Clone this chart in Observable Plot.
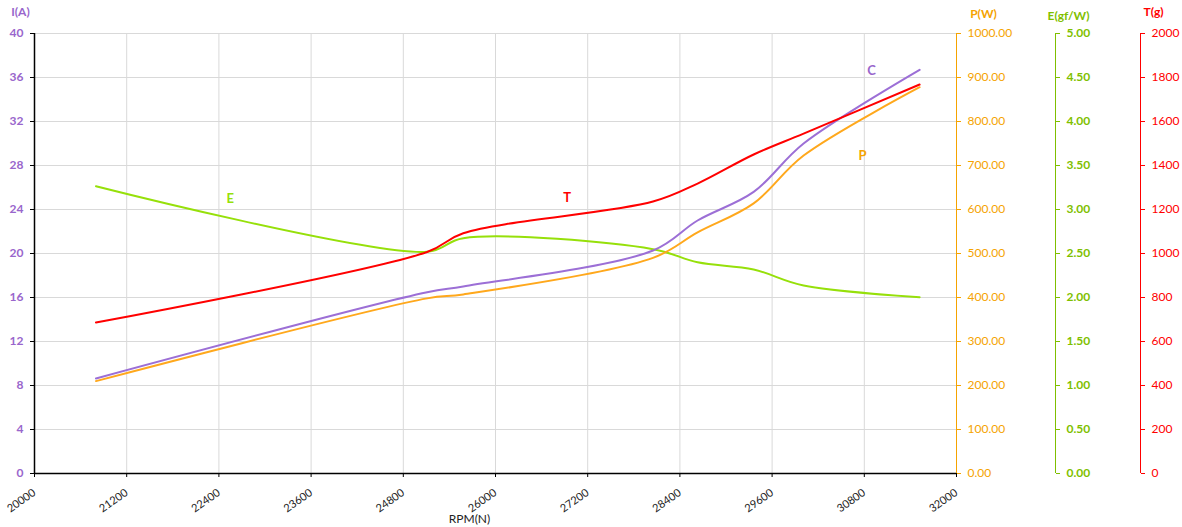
<!DOCTYPE html>
<html><head><meta charset="utf-8">
<script src="https://cdn.jsdelivr.net/npm/d3@7"></script>
<script src="https://cdn.jsdelivr.net/npm/@observablehq/plot@0.6"></script>
<style>
body{margin:0;background:#fff;}
#chart{width:1182px;height:527px;overflow:hidden;}
</style></head><body><div id="chart"></div>
<script>
// ---- data ----
const rpm        = [20800, 25110, 25580, 28050, 28630, 29360, 30010, 31520];
const current    = [8.64, 16.48, 17.0, 20.27, 23.0, 25.6, 30.0, 36.7];        // I(A)
const power      = [210, 398, 407, 490, 548, 614, 722.7, 878];               // P(W)
const thrust     = [686, 1007, 1092, 1236, 1318, 1450, 1545, 1768];          // T(g)
const efficiency = [3.265, 2.52, 2.674, 2.549, 2.40, 2.318, 2.136, 2.004];   // E(gf/W)

const xTicks = [20000, 21200, 22400, 23600, 24800, 26000, 27200, 28400, 29600, 30800, 32000];
const iTicks = [0, 4, 8, 12, 16, 20, 24, 28, 32, 36, 40];
const pTicks = [0, 100, 200, 300, 400, 500, 600, 700, 800, 900, 1000];
const eTicks = [0, 0.5, 1, 1.5, 2, 2.5, 3, 3.5, 4, 4.5, 5];
const tTicks = [0, 200, 400, 600, 800, 1000, 1200, 1400, 1600, 1800, 2000];

const xDomain = [20000, 32000];
const iMax = 40, pMax = 1000, eMax = 5, tMax = 2000;

const seriesLabels = ["E", "T", "C", "P"];
const labelRpm     = [22546, 26934, 30893, 30776];
const labelValue   = [3.125, 1255, 36.6, 722.5];

// ---- styles ----
const COL = {C: "#9c6fd6", P: "#ffa81c", E: "#96e00a", T: "#ff0000"};
const AXCOL = {I: "#9966cc", P: "#f5a300", E: "#7fbf00", T: "#ff0000"};
const LABCOL = {C: "#9966cc", P: "#f5a300", E: "#96e00a", T: "#ff0000"};
const toI = {C: v => v, P: v => v * iMax / pMax, E: v => v * iMax / eMax, T: v => v * iMax / tMax};

const rows = [];
rpm.forEach((r, i) => {
  rows.push({rpm: r, s: "C", v: toI.C(current[i])});
  rows.push({rpm: r, s: "P", v: toI.P(power[i])});
  rows.push({rpm: r, s: "E", v: toI.E(efficiency[i])});
  rows.push({rpm: r, s: "T", v: toI.T(thrust[i])});
});
const order = ["E", "P", "C", "T"];
const labelRows = seriesLabels.map((s, i) => ({s, rpm: labelRpm[i], v: toI[s](labelValue[i])}));

const font = "Lato, 'Open Sans', sans-serif";

const rightAxis = (ticks, max, fmt, color, dx, bold) => [
  Plot.ruleX([xDomain[1]], {y1: 0, y2: iMax, stroke: color, strokeWidth: 1, dx}),
  Plot.axisY(ticks.map(t => t * iMax / max), {
    anchor: "right", tickSize: 4, tickPadding: 7, dx,
    stroke: color, fill: color, fontSize: 12, fontWeight: bold ? "bold" : "normal",
    tickFormat: d => fmt(d * max / iMax), label: null
  })
];

const title = (txt, anchor, dx, dy, fill, bold) =>
  Plot.text([txt], {frameAnchor: anchor, dx, dy, fill, fontWeight: bold ? "bold" : "normal",
    fontSize: 12, textAnchor: "middle", lineAnchor: "middle"});

const chart = Plot.plot({
  width: 1182, height: 527,
  marginLeft: 34, marginRight: 226, marginTop: 33, marginBottom: 54,
  style: {fontFamily: font, background: "#fff", overflow: "visible"},
  x: {domain: xDomain},
  y: {domain: [0, iMax]},
  marks: [
    Plot.gridX(xTicks, {stroke: "#d9d9d9", strokeOpacity: 1}),
    Plot.gridY(iTicks, {stroke: "#d9d9d9", strokeOpacity: 1}),
    Plot.axisX(xTicks, {tickSize: 4, tickRotate: -35, fontSize: 11, stroke: "#000", fill: "#222", label: null, tickPadding: 14, tickFormat: d => String(d)}),
    Plot.axisY(iTicks, {anchor: "left", tickSize: 4, tickPadding: 7, stroke: "#000", fill: AXCOL.I, fontSize: 12, fontWeight: "bold", label: null}),
    ...rightAxis(pTicks, pMax, d => d.toFixed(2), AXCOL.P, 0, false),
    ...rightAxis(eTicks, eMax, d => d.toFixed(2), AXCOL.E, 99, true),
    ...rightAxis(tTicks, tMax, d => d.toFixed(0), AXCOL.T, 184, false),
    Plot.ruleX([xDomain[0]], {y1: 0, y2: iMax, stroke: "#000", strokeWidth: 1.5}),
    Plot.ruleY([0], {stroke: "#000", strokeWidth: 1.5}),
    ...order.map(s => Plot.line(rows.filter(d => d.s === s), {
      x: "rpm", y: "v", stroke: COL[s], strokeWidth: 2, curve: "catmull-rom"
    })),
    Plot.text(labelRows, {x: "rpm", y: "v", text: "s", fill: d => LABCOL[d.s], fontWeight: "bold", fontSize: 13}),
    // axis titles
    title("I(A)", "top-left", -14, -21, AXCOL.I, true),
    title("P(W)", "top-right", 27, -19, AXCOL.P, true),
    title("E(gf/W)", "top-right", 112, -17, AXCOL.E, true),
    title("T(g)", "top-right", 197, -21, AXCOL.T, true),
    title("RPM(N)", "bottom", -26, 46, "#222", false)
  ]
});
document.getElementById("chart").appendChild(chart);
</script>
</body></html>
